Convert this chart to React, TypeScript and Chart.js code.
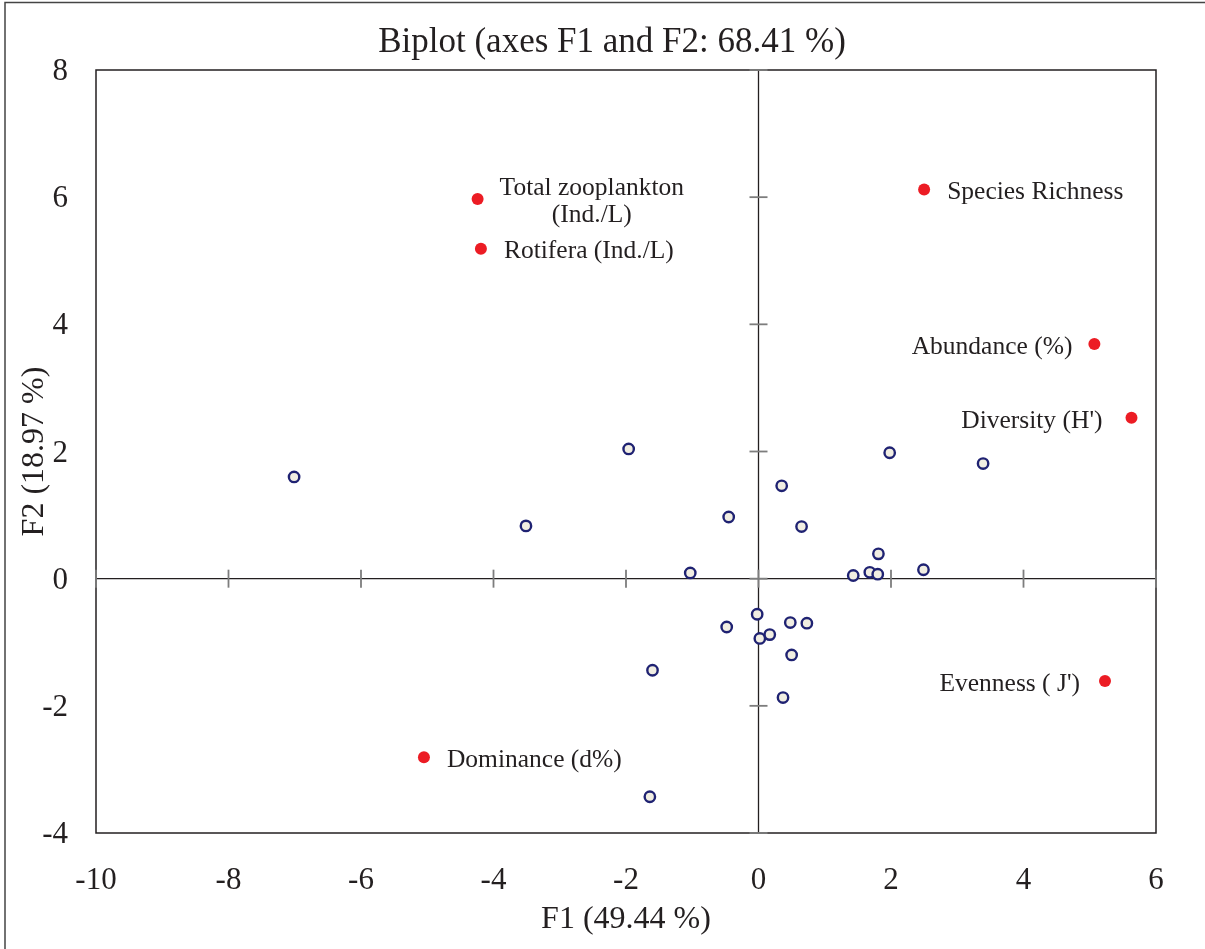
import { useEffect, useRef } from "react";
import { Chart, registerables } from "chart.js";

Chart.register(...registerables);

const TITLE = "Biplot (axes F1 and F2: 68.41 %)";
const X_TITLE = "F1 (49.44 %)";
const Y_TITLE = "F2 (18.97 %)";
const X_MIN = -10;
const X_MAX = 6;
const Y_MIN = -4;
const Y_MAX = 8;
const STEP = 2;

// Observations (F1, F2)
const obsF1 = [-7.01, -1.96, -3.51, -0.45, 0.35, 0.65, 1.98, 3.39, 1.81, -1.03, 1.43, 1.68, 1.8, 2.49, -0.02, -0.48, 0.48, 0.73, 0.02, 0.17, 0.5, -1.6, 0.37, -1.64];
const obsF2 = [1.6, 2.04, 0.83, 0.97, 1.46, 0.82, 1.98, 1.81, 0.39, 0.09, 0.05, 0.1, 0.07, 0.14, -0.56, -0.76, -0.69, -0.7, -0.94, -0.88, -1.2, -1.44, -1.87, -3.43];

// Variables (F1, F2)
const varNames = [
  ["Total zooplankton", "(Ind./L)"],
  ["Rotifera (Ind./L)"],
  ["Species Richness"],
  ["Abundance (%)"],
  ["Diversity (H')"],
  ["Evenness ( J')"],
  ["Dominance (d%)"],
];
const varF1 = [-4.24, -4.19, 2.5, 5.07, 5.63, 5.23, -5.05];
const varF2 = [5.97, 5.19, 6.12, 3.69, 2.53, -1.61, -2.81];

// label placement relative to point
const labelSide = ["right", "right", "right", "left", "left", "left", "right"];
const labelGap = [22, 23, 23, 22, 29, 25, 23];

const FONT = '"Liberation Serif", "Times New Roman", serif';
const INK = "#231f20";

const decorPlugin = {
  id: "decor",
  beforeDatasetsDraw(chart: any) {
    const { ctx, chartArea: a, scales } = chart;
    const xs = scales.x;
    const ys = scales.y;
    const line = (x1: number, y1: number, x2: number, y2: number) => {
      ctx.beginPath();
      ctx.moveTo(x1, y1);
      ctx.lineTo(x2, y2);
      ctx.stroke();
    };
    ctx.save();
    // outer border (left + top)
    ctx.strokeStyle = "#444";
    ctx.lineWidth = 1.5;
    ctx.beginPath();
    ctx.moveTo(5, chart.height);
    ctx.lineTo(5, 2.5);
    ctx.lineTo(chart.width, 2.5);
    ctx.stroke();
    // plot frame
    ctx.strokeStyle = INK;
    ctx.lineWidth = 1.5;
    ctx.strokeRect(a.left, a.top, a.right - a.left, a.bottom - a.top);
    // zero axes
    const x0 = xs.getPixelForValue(0);
    const y0 = ys.getPixelForValue(0);
    ctx.lineWidth = 1.3;
    line(a.left, y0, a.right, y0);
    line(x0, a.top, x0, a.bottom);
    // tick marks on zero axes
    ctx.strokeStyle = "#7d7d7d";
    ctx.lineWidth = 1.8;
    for (let v = X_MIN; v <= X_MAX; v += STEP) {
      const px = xs.getPixelForValue(v);
      line(px, y0 - 9, px, y0 + 9);
    }
    for (let v = Y_MIN; v <= Y_MAX; v += STEP) {
      const py = ys.getPixelForValue(v);
      line(x0 - 9, py, x0 + 9, py);
    }
    // title
    ctx.fillStyle = INK;
    ctx.font = `35px ${FONT}`;
    ctx.textAlign = "center";
    ctx.textBaseline = "middle";
    ctx.fillText(TITLE, 612, 43);
    ctx.restore();
  },
  afterDatasetsDraw(chart: any) {
    const { ctx, scales } = chart;
    ctx.save();
    ctx.fillStyle = INK;
    ctx.font = `25.5px ${FONT}`;
    ctx.textBaseline = "middle";
    const lh = 27;
    varNames.forEach((lines, i) => {
      const px = scales.x.getPixelForValue(varF1[i]);
      const py = scales.y.getPixelForValue(varF2[i]);
      const widths = lines.map((t) => ctx.measureText(t).width);
      const maxW = Math.max(...widths);
      const cx = labelSide[i] === "right" ? px + labelGap[i] + maxW / 2 : px - labelGap[i] - maxW / 2;
      ctx.textAlign = "center";
      const startY = py - ((lines.length - 1) * lh) / 2 + 3;
      lines.forEach((t, j) => {
        ctx.fillText(t, cx, startY + j * lh);
      });
    });
    ctx.restore();
  },
};

export default function App() {
  const ref = useRef<HTMLCanvasElement | null>(null);

  useEffect(() => {
    if (!ref.current) return;
    const obsData = obsF1.map((v, i) => ({ x: v, y: obsF2[i] }));
    const varData = varF1.map((v, i) => ({ x: v, y: varF2[i] }));
    const chart = new Chart(ref.current, {
      type: "scatter",
      data: {
        datasets: [
          {
            label: "Observations",
            data: obsData,
            pointRadius: 5.2,
            pointBorderWidth: 2.4,
            pointBackgroundColor: "#f1eee2",
            pointBorderColor: "#1f2272",
            showLine: false,
          },
          {
            label: "Variables",
            data: varData,
            pointRadius: 6,
            pointBorderWidth: 0,
            pointBackgroundColor: "#ec1c24",
            pointBorderColor: "#ec1c24",
            showLine: false,
          },
        ],
      },
      options: {
        animation: false,
        responsive: false,
        devicePixelRatio: 1,
        layout: { padding: { left: 0, top: 70, right: 49, bottom: 0 } },
        plugins: {
          legend: { display: false },
          tooltip: { enabled: false },
          title: { display: false },
        },
        scales: {
          x: {
            type: "linear",
            min: X_MIN,
            max: X_MAX,
            border: { display: false },
            grid: { display: false, drawTicks: false },
            ticks: {
              stepSize: STEP,
              padding: 29,
              color: INK,
              font: { family: FONT, size: 31 },
              maxRotation: 0,
            },
            title: {
              display: true,
              text: X_TITLE,
              color: INK,
              font: { family: FONT, size: 32 },
              padding: { top: 0, bottom: 10 },
            },
            afterFit: (s: any) => {
              s.height = 116;
            },
          },
          y: {
            type: "linear",
            min: Y_MIN,
            max: Y_MAX,
            border: { display: false },
            grid: { display: false, drawTicks: false },
            ticks: {
              stepSize: STEP,
              padding: 28,
              labelOffset: 2,
              color: INK,
              font: { family: FONT, size: 31 },
            },
            title: {
              display: true,
              text: Y_TITLE,
              color: INK,
              font: { family: FONT, size: 32 },
              padding: { top: 15, bottom: 0 },
            },
            afterFit: (s: any) => {
              s.width = 96;
            },
          },
        },
      },
      plugins: [decorPlugin],
    });
    return () => chart.destroy();
  }, []);

  return (
    <canvas
      ref={ref}
      width={1205}
      height={949}
      style={{ position: "absolute", left: 0, top: 0, width: 1205, height: 949 }}
    />
  );
}
